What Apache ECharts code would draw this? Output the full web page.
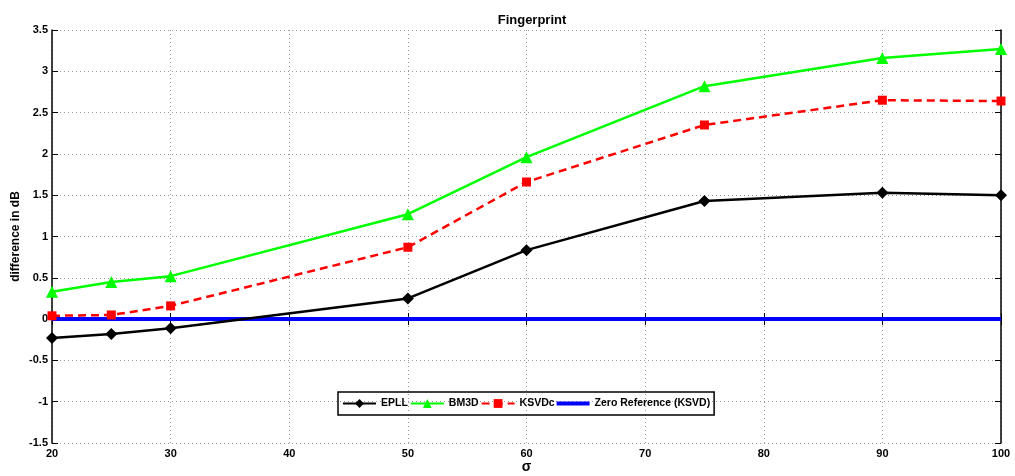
<!DOCTYPE html>
<html><head><meta charset="utf-8">
<script src="https://cdn.jsdelivr.net/npm/echarts@6/dist/echarts.min.js"></script>
<style>html,body{margin:0;padding:0;background:#fff}#c{width:1015px;height:476px}</style>
</head><body><div id="c"></div>
<script>
const sigma = [20, 25, 30, 50, 60, 75, 90, 100];
const epll  = [-0.23, -0.18, -0.11, 0.25, 0.835, 1.43, 1.53, 1.50];
const bm3d  = [0.33, 0.45, 0.52, 1.27, 1.96, 2.82, 3.16, 3.27];
const ksvdc = [0.04, 0.05, 0.16, 0.87, 1.66, 2.35, 2.65, 2.64];
const zeroRef = [0, 0, 0, 0, 0, 0, 0, 0];
const seriesNames = ['EPLL', 'BM3D', 'KSVDc', 'Zero Reference (KSVD)'];

const pair = (xs, ys) => xs.map((x, i) => [x, ys[i]]);
const font = 'Liberation Sans, Arial, sans-serif';
const gridLine = {show: true, lineStyle: {color: '#9a9a9a', type: [1, 3], width: 1}};
const axLine = {show: true, lineStyle: {color: '#000', width: 1.5}};
const tick = {show: true, inside: true, length: 6, lineStyle: {color: '#000', width: 1}};
const lbl = {color: '#000', fontWeight: 'bold', fontSize: 11, fontFamily: font};

const chart = echarts.init(document.getElementById('c'));
chart.setOption({
  animation: false,
  backgroundColor: '#fff',
  title: {text: 'Fingerprint', left: 527, top: 9, textAlign: 'center',
    textStyle: {fontSize: 13, fontWeight: 'bold', fontFamily: font, color: '#000'}},
  grid: {left: 52, right: 14, top: 30, bottom: 33, outerBoundsMode: 'none', containLabel: false},
  legend: {
    data: [
      {name: seriesNames[0]}, {name: seriesNames[1]}, {name: seriesNames[2]},
      {name: seriesNames[3], icon: 'path://M0,0 L100,0 L100,12 L0,12 Z'}
    ],
    left: 338, top: 392, orient: 'horizontal',
    borderColor: '#000', borderWidth: 1.5, padding: [6, 4], itemGap: 2,
    itemWidth: 33, itemHeight: 11,
    textStyle: {fontSize: 10.5, fontWeight: 'bold', fontFamily: font, color: '#000'}
  },
  xAxis: [
    {type: 'value', min: 20, max: 100, interval: 10, position: 'bottom',
      name: 'σ', nameLocation: 'middle', nameGap: 17, nameMoveOverlap: false,
      nameTextStyle: {fontSize: 14, fontWeight: 'bold', fontFamily: font, color: '#000'},
      axisLine: axLine, axisTick: tick, axisLabel: Object.assign({margin: 5}, lbl), splitLine: gridLine},
    {type: 'value', min: 20, max: 100, interval: 10, position: 'top',
      axisLine: axLine, axisTick: tick, axisLabel: {show: false}, splitLine: {show: false}}
  ],
  yAxis: [
    {type: 'value', min: -1.5, max: 3.5, interval: 0.5, position: 'left',
      name: 'difference in dB', nameLocation: 'middle', nameGap: 30, nameRotate: 90, nameMoveOverlap: false,
      nameTextStyle: {fontSize: 12, fontWeight: 'bold', fontFamily: font, color: '#000'},
      axisLine: axLine, axisTick: tick, axisLabel: Object.assign({margin: 4}, lbl), splitLine: gridLine},
    {type: 'value', min: -1.5, max: 3.5, interval: 0.5, position: 'right',
      axisLine: axLine, axisTick: tick, axisLabel: {show: false}, splitLine: {show: false}}
  ],
  series: [
    {name: seriesNames[0], type: 'line', data: pair(sigma, epll), symbol: 'diamond', symbolSize: 12,
      lineStyle: {color: '#000', width: 2.5}, itemStyle: {color: '#000'}, z: 4},
    {name: seriesNames[1], type: 'line', data: pair(sigma, bm3d), symbol: 'triangle', symbolSize: 12,
      lineStyle: {color: '#00ff00', width: 2.5}, itemStyle: {color: '#00ff00'}, z: 3},
    {name: seriesNames[2], type: 'line', data: pair(sigma, ksvdc), symbol: 'rect', symbolSize: 9,
      lineStyle: {color: '#ff0000', width: 2.5, type: [8, 5]}, itemStyle: {color: '#ff0000'}, z: 3},
    {name: seriesNames[3], type: 'line', data: pair(sigma, zeroRef), symbol: 'none', showSymbol: false,
      lineStyle: {color: '#0000ff', width: 4}, itemStyle: {color: '#0000ff'}, z: 2}
  ]
});
</script></body></html>
